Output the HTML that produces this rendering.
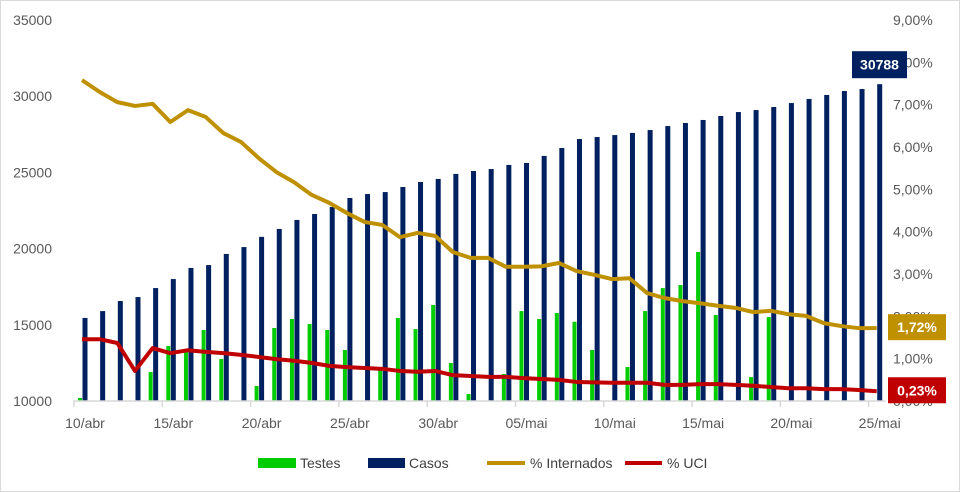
<!DOCTYPE html>
<html><head><meta charset="utf-8"><style>
body{margin:0;background:#fff;}
svg{display:block;font-family:"Liberation Sans",sans-serif;}
</style></head><body>
<svg id="chart" width="960" height="492">
<rect x="0.5" y="0.5" width="959" height="491" fill="#fff" stroke="#d9d9d9"/>
<g id="bars"></g><g id="lines"></g><g id="axes"></g><g id="annot"></g>
<g font-size="14" fill="#404040">
<rect x="258" y="458" width="38" height="10" fill="#00cc00"/>
<text x="300" y="468">Testes</text>
<rect x="368" y="458" width="37" height="10" fill="#002060"/>
<text x="409" y="468">Casos</text>
<line x1="487" y1="463" x2="525" y2="463" stroke="#bf9000" stroke-width="4"/>
<text x="530" y="468">% Internados</text>
<line x1="625" y1="463" x2="662" y2="463" stroke="#c00000" stroke-width="4"/>
<text x="667" y="468">% UCI</text>
</g>
</svg>
<script>
const casos=[15450,15900,16560,16820,17410,18000,18730,18920,19650,20100,20770,21290,21880,22270,22730,23320,23580,23710,24040,24370,24570,24900,25090,25220,25490,25620,26080,26600,27190,27320,27450,27590,27780,28040,28240,28440,28700,28960,29090,29290,29550,29820,30080,30340,30470,30788];
const testes=[10200,0,0,0,11900,13610,13220,14660,12760,0,10980,14790,15380,15050,14660,13350,0,12000,15450,14720,16300,12490,10460,0,11770,15900,15380,15770,15200,13350,0,12230,15900,17410,17610,19780,15640,0,11570,15510,0,0,0,0,0,0];
const internados=[7.58,7.30,7.06,6.97,7.02,6.59,6.87,6.71,6.33,6.12,5.74,5.41,5.17,4.87,4.68,4.44,4.23,4.16,3.87,3.97,3.90,3.52,3.38,3.38,3.17,3.17,3.18,3.26,3.07,2.98,2.88,2.90,2.55,2.43,2.36,2.31,2.25,2.20,2.10,2.13,2.05,2.01,1.84,1.77,1.72,1.72];
const uci=[1.46,1.46,1.37,0.71,1.25,1.13,1.20,1.16,1.13,1.09,1.04,0.99,0.95,0.90,0.83,0.80,0.78,0.76,0.71,0.69,0.71,0.61,0.59,0.57,0.57,0.54,0.52,0.50,0.45,0.44,0.43,0.43,0.43,0.38,0.38,0.40,0.40,0.38,0.36,0.33,0.30,0.30,0.28,0.28,0.26,0.23];
const leftTicks=[10000,15000,20000,25000,30000,35000];
const rightTicks=[0,1,2,3,4,5,6,7,8,9];
const xLabels=["10/abr","15/abr","20/abr","25/abr","30/abr","05/mai","10/mai","15/mai","20/mai","25/mai"];
const NS="http://www.w3.org/2000/svg";
const X0=73,STEP=17.66,Y0=401,Y1=20;
const yL=v=>Y0-(v-10000)/25000*(Y0-Y1);
const yR=v=>Y0-v/9*(Y0-Y1);
const xL=i=>X0+i*STEP;
function mk(tag,attrs,parent,txt){const e=document.createElementNS(NS,tag);for(const k in attrs)e.setAttribute(k,attrs[k]);if(txt!==undefined)e.textContent=txt;parent.appendChild(e);return e;}
const bars=document.getElementById('bars'),lines=document.getElementById('lines'),axes=document.getElementById('axes'),annot=document.getElementById('annot');
casos.forEach((v,i)=>{
 const r=mk('rect',{x:xL(i)+9.5,y:yL(v),width:5,height:Y0-yL(v),fill:'#002060'},bars);
 
 
});
testes.forEach((v,i)=>{
 if(!v)return;
 const r=mk('rect',{x:xL(i)+5,y:yL(v),width:4,height:Y0-yL(v),fill:'#00cc00'},bars);
 
 
});
function line(data,color,name){
 const p=mk('polyline',{points:data.map((v,i)=>(xL(i)+9)+','+yR(v)).join(' '),fill:'none',stroke:color,'stroke-width':4,'stroke-linejoin':'round'},lines);
 
 
}
line(internados,'#bf9000','line-internados');
line(uci,'#c00000','line-uci');
const ax=mk('line',{x1:X0,y1:Y0,x2:X0+46*STEP,y2:Y0,stroke:'#d9d9d9','stroke-width':1.5},axes);


leftTicks.forEach(v=>{
 const t=mk('text',{x:52,y:yL(v)+5,'text-anchor':'end','font-size':14,fill:'#595959'},axes,String(v));
 
 
});
rightTicks.forEach(v=>{
 const t=mk('text',{x:893,y:yR(v)+5,'font-size':14,fill:'#595959'},axes,v+',00%');
 
 
});
xLabels.forEach((s,k)=>{
 const i=k*5;
 const tk=mk('line',{x1:xL(i)+1,y1:Y0,x2:xL(i)+1,y2:Y0+6,stroke:'#d9d9d9','stroke-width':1.5},axes);
 
 
 const t=mk('text',{x:xL(i)+12,y:Y0+27,'text-anchor':'middle','font-size':14,fill:'#595959'},axes,s);
 
 
});
function box(x,y,w,h,fill,txt,name){
 const r=mk('rect',{x:x,y:y,width:w,height:h,fill:fill},annot);
 
 
 const t=mk('text',{x:x+w/2,y:y+h/2+5,'text-anchor':'middle','font-size':14,'font-weight':'bold',fill:'#fff'},annot,txt);
 
 
}
const last=casos.length-1;
box(852,yL(casos[last])-33,55,27,'#002060',String(casos[last]),'casos-last-label');
box(888,yR(internados[last])-14,58,26,'#bf9000',internados[last].toFixed(2).replace('.',',')+'%','internados-last-label');
box(888,yR(uci[last])-14,58,26,'#c00000',uci[last].toFixed(2).replace('.',',')+'%','uci-last-label');
</script>
</body></html>
